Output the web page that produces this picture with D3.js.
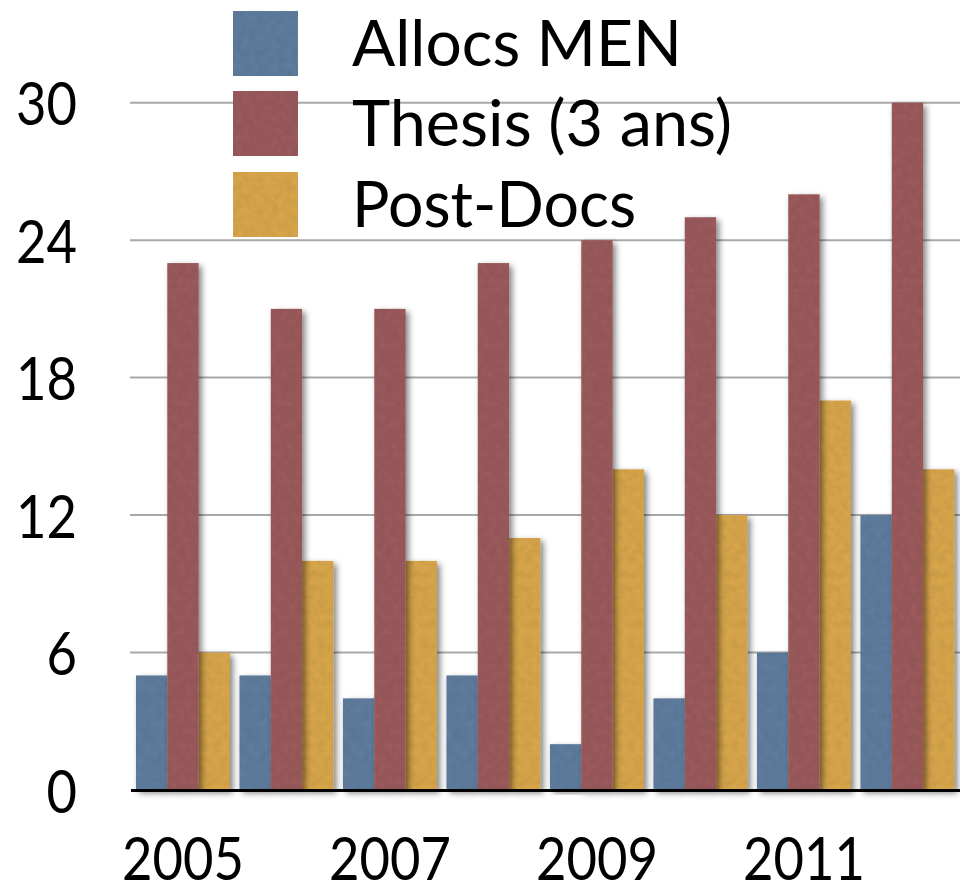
<!DOCTYPE html>
<html>
<head>
<meta charset="utf-8">
<script src="https://cdn.jsdelivr.net/npm/d3@7"></script>
<style>
  html, body { margin: 0; padding: 0; background: #fff; }
  svg { display: block; }
  text { font-family: "Lato", "Open Sans", sans-serif; fill: #000; }
</style>
</head>
<body>
<svg id="chart" width="960" height="886"></svg>
<script>
// Funding counts per year
const years = ["2005", "2006", "2007", "2008", "2009", "2010", "2011", "2012"];
const seriesNames = ["Allocs MEN", "Thesis (3 ans)", "Post-Docs"];
const allocsMEN = [5, 5, 4, 5, 2, 4, 6, 12];
const thesis = [23, 21, 21, 23, 24, 25, 26, 30];
const postDocs = [6, 10, 10, 11, 14, 12, 17, 14];
const yTicks = [0, 6, 12, 18, 24, 30];
const xTickLabels = ["2005", "2007", "2009", "2011"];
const seriesColors = ["#5f7b9c", "#9a5a5b", "#d6a44c"];

const seriesValues = [allocsMEN, thesis, postDocs];
const rows = years.map((yr, i) => ({
  year: yr,
  values: seriesNames.map((name, s) => ({ name, s, value: seriesValues[s][i] }))
}));

const svg = d3.select("#chart");

// Filters: fine paper-like grain, and grain plus soft drop shadow for bars
const defs = svg.append("defs");
function grain(f) {
  f.append("feTurbulence").attr("type", "fractalNoise").attr("baseFrequency", "0.14")
    .attr("numOctaves", 3).attr("seed", 7).attr("result", "noise");
  f.append("feColorMatrix").attr("in", "noise").attr("type", "matrix")
    .attr("values", "0 0 0 0 0  0 0 0 0 0  0 0 0 0 0  0.22 0 0 0 -0.07").attr("result", "dark");
  f.append("feComposite").attr("in", "dark").attr("in2", "SourceGraphic")
    .attr("operator", "in").attr("result", "grainOnBar");
}
const tex = defs.append("filter").attr("id", "tex")
  .attr("x", "-10%").attr("y", "-10%").attr("width", "120%").attr("height", "120%");
grain(tex);
const tm = tex.append("feMerge");
tm.append("feMergeNode").attr("in", "SourceGraphic");
tm.append("feMergeNode").attr("in", "grainOnBar");

const shad = defs.append("filter").attr("id", "barShadow")
  .attr("x", "-40%").attr("y", "-10%").attr("width", "180%").attr("height", "120%");
grain(shad);
shad.append("feGaussianBlur").attr("in", "SourceAlpha").attr("stdDeviation", 3.2).attr("result", "blur");
shad.append("feOffset").attr("in", "blur").attr("dx", 3).attr("dy", 3).attr("result", "off");
shad.append("feComponentTransfer").attr("in", "off").attr("result", "shadow")
  .append("feFuncA").attr("type", "linear").attr("slope", 0.5);
const sm = shad.append("feMerge");
sm.append("feMergeNode").attr("in", "shadow");
sm.append("feMergeNode").attr("in", "SourceGraphic");
sm.append("feMergeNode").attr("in", "grainOnBar");

// Scales
const y = d3.scaleLinear().domain([0, 30]).range([790, 102.7]);
const x0 = d3.scaleBand().domain(years).range([131, 959.4])
  .paddingInner(0.092).paddingOuter(0.048);
const x1 = d3.scaleBand().domain(seriesNames).range([0, x0.bandwidth()]).padding(0);

const plotLeft = 130, plotRight = 960;

// Horizontal gridlines
svg.append("g").selectAll("line")
  .data(yTicks.filter(t => t > 0))
  .join("line")
  .attr("x1", plotLeft).attr("x2", plotRight)
  .attr("y1", d => y(d)).attr("y2", d => y(d))
  .attr("stroke", "#a9a9a9").attr("stroke-width", 2);

// Bars: draw thesis last so its shadow falls on both neighbours
const drawOrder = [0, 2, 1];
const groups = svg.append("g").selectAll("g")
  .data(rows).join("g")
  .attr("transform", d => `translate(${x0(d.year)},0)`);
groups.selectAll("rect")
  .data(d => drawOrder.map(s => d.values[s]))
  .join("rect")
  .attr("x", d => x1(d.name))
  .attr("y", d => y(d.value))
  .attr("width", x1.bandwidth())
  .attr("height", d => y(0) - y(d.value))
  .attr("fill", d => seriesColors[d.s])
  .attr("filter", "url(#barShadow)");

// Baseline
svg.append("line")
  .attr("x1", 131).attr("x2", plotRight)
  .attr("y1", y(0) + 0.5).attr("y2", y(0) + 0.5)
  .attr("stroke", "#000").attr("stroke-width", 3);

// Y tick labels (right-aligned)
const yAxis = d3.axisLeft(y).tickValues(yTicks).tickSize(0).tickPadding(0);
const yg = svg.append("g").attr("transform", "translate(77,0)").call(yAxis);
yg.select(".domain").remove();
yg.selectAll(".tick text")
  .attr("font-size", 60)
  .attr("font-family", "Lato, 'Open Sans', sans-serif")
  .attr("fill", "#000")
  .attr("text-anchor", "start")
  .attr("dy", 22)
  .attr("x", d => -String(d).length * 30.5)
  .attr("textLength", d => String(d).length * 30.5)
  .attr("lengthAdjust", "spacingAndGlyphs");

// X tick labels for every other year
const xAxis = d3.axisBottom(x0).tickValues(xTickLabels).tickSize(0).tickPadding(0);
const xg = svg.append("g").attr("transform", "translate(0,880)").call(xAxis);
xg.select(".domain").remove();
xg.selectAll(".tick text")
  .attr("font-size", 60)
  .attr("font-family", "Lato, 'Open Sans', sans-serif")
  .attr("fill", "#000")
  .attr("dy", 0)
  .attr("y", 0)
  .attr("text-anchor", "start")
  .attr("x", -61)
  .attr("textLength", 122)
  .attr("lengthAdjust", "spacingAndGlyphs");

// Legend
const legendTops = [11, 91, 172];
const legendTextLen = [330, 380, 284];
const legend = svg.append("g");
seriesNames.forEach((name, s) => {
  legend.append("rect")
    .attr("x", 233).attr("y", legendTops[s])
    .attr("width", 65).attr("height", 65)
    .attr("fill", seriesColors[s])
    .attr("filter", "url(#tex)");
  legend.append("text")
    .attr("x", 352).attr("y", legendTops[s] + 55)
    .attr("font-size", 64)
    .attr("textLength", legendTextLen[s])
    .attr("lengthAdjust", "spacingAndGlyphs")
    .text(name);
});
</script>
</body>
</html>
